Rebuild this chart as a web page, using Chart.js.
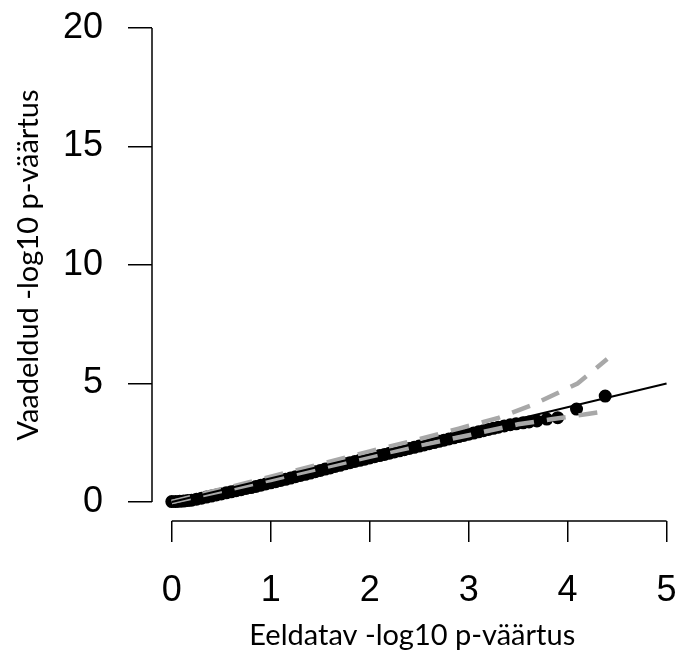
<!DOCTYPE html>
<html>
<head>
<meta charset="utf-8">
<script src="https://cdn.jsdelivr.net/npm/chart.js@4"></script>
<style>
  html, body { margin: 0; padding: 0; background: #fff; }
  #wrap { width: 680px; height: 654px; }
</style>
</head>
<body>
<div id="wrap"><canvas id="qq"></canvas></div>
<script>
const expected = [0.00, 0.04, 0.08, 0.12, 0.16, 0.20, 0.25, 0.30, 0.35, 0.40, 0.45, 0.50,
  0.55, 0.60, 0.65, 0.70, 0.75, 0.80, 0.85, 0.90, 0.95, 1.00, 1.05, 1.10, 1.15, 1.20,
  1.25, 1.30, 1.35, 1.40, 1.45, 1.50, 1.55, 1.60, 1.65, 1.70, 1.75, 1.80, 1.85, 1.90,
  1.95, 2.00, 2.05, 2.10, 2.15, 2.20, 2.25, 2.30, 2.35, 2.40, 2.45, 2.50, 2.55, 2.60,
  2.65, 2.70, 2.75, 2.80, 2.85, 2.90, 2.95, 3.00, 3.05, 3.10, 3.15, 3.20, 3.25, 3.30,
  3.36, 3.42, 3.48, 3.55, 3.61, 3.69, 3.79, 3.90, 4.09, 4.38]
const observed = [0.02, 0.02, 0.03, 0.04, 0.06, 0.08, 0.12, 0.16, 0.21, 0.25, 0.30, 0.34,
  0.39, 0.43, 0.48, 0.52, 0.57, 0.61, 0.66, 0.71, 0.76, 0.81, 0.86, 0.91, 0.96, 1.01,
  1.07, 1.12, 1.17, 1.22, 1.28, 1.33, 1.39, 1.44, 1.50, 1.55, 1.61, 1.66, 1.71, 1.76,
  1.81, 1.86, 1.91, 1.96, 2.01, 2.06, 2.11, 2.16, 2.21, 2.26, 2.31, 2.36, 2.41, 2.46,
  2.51, 2.56, 2.61, 2.66, 2.71, 2.76, 2.81, 2.86, 2.91, 2.96, 3.01, 3.06, 3.11, 3.16,
  3.21, 3.26, 3.30, 3.34, 3.38, 3.42, 3.50, 3.56, 3.92, 4.47]

// confidence band (grey dashed)
const upperX = [0, 0.5, 1.0, 1.5, 2.0, 2.5, 2.9, 3.3, 3.63, 3.9, 4.1, 4.23, 4.4]
const upperY = [0, 0.54, 1.07, 1.6, 2.14, 2.65, 3.1, 3.55, 4.07, 4.6, 5.0, 5.44, 6.03]
const lowerX = [0, 0.5, 1.0, 1.5, 2.0, 2.5, 3.0, 3.5, 3.85, 4.2, 4.4]
const lowerY = [0, 0.46, 0.93, 1.42, 1.91, 2.38, 2.82, 3.28, 3.5, 3.71, 3.84]

// reference line y = x
const diagX = [0, 5]

const xTicks = [0, 1, 2, 3, 4, 5]
const yTicks = [0, 5, 10, 15, 20]

const xTitle = 'Eeldatav -log10 p-väärtus'
const yTitle = 'Vaadeldud -log10 p-väärtus'

function pairs (xs, ys) {
  return xs.map((x, i) => ({ x: x, y: ys[i] }))
}

// no extra room for edge labels, keep the plot box fixed
function noPad (scale) {
  scale.paddingLeft = 0
  scale.paddingRight = 0
  scale.paddingTop = 0
  scale.paddingBottom = 0
}

// R-style detached axis lines, only between first and last tick
const axisLines = {
  id: 'axisLines',
  afterDraw (chart) {
    const { ctx, chartArea, scales } = chart
    ctx.save()
    ctx.strokeStyle = '#000'
    ctx.lineWidth = 1.5
    ctx.beginPath()
    ctx.moveTo(scales.x.getPixelForValue(xTicks[0]), chartArea.bottom)
    ctx.lineTo(scales.x.getPixelForValue(xTicks[xTicks.length - 1]), chartArea.bottom)
    ctx.moveTo(chartArea.left, scales.y.getPixelForValue(yTicks[0]))
    ctx.lineTo(chartArea.left, scales.y.getPixelForValue(yTicks[yTicks.length - 1]))
    ctx.stroke()
    ctx.restore()
  }
}

const tickFont = { family: '"Liberation Sans", Arial, sans-serif', size: 36 }
const titleFont = { family: 'Lato, "Open Sans", sans-serif', size: 29 }

new Chart(document.getElementById('qq'), {
  type: 'scatter',
  data: {
    datasets: [
      {
        label: 'y = x',
        data: pairs(diagX, diagX),
        showLine: true,
        borderColor: '#000',
        borderWidth: 2,
        pointRadius: 0,
        order: 1
      },
      {
        label: 'upper',
        data: pairs(upperX, upperY),
        showLine: true,
        borderColor: '#a8a8a8',
        borderWidth: 4.5,
        borderDash: [19, 13],
        pointRadius: 0,
        order: 2
      },
      {
        label: 'lower',
        data: pairs(lowerX, lowerY),
        showLine: true,
        borderColor: '#a8a8a8',
        borderWidth: 4.5,
        borderDash: [19, 13],
        pointRadius: 0,
        order: 2
      },
      {
        label: 'p',
        data: pairs(expected, observed),
        backgroundColor: '#000',
        borderColor: '#000',
        borderWidth: 2,
        pointRadius: 5.5,
        order: 3
      }
    ]
  },
  options: {
    responsive: true,
    maintainAspectRatio: false,
    animation: false,
    layout: { padding: { top: 9, right: 0, left: 0, bottom: 0 } },
    scales: {
      x: {
        type: 'linear',
        min: -0.2,
        max: 5.06,
        afterFit: function (scale) { scale.height = 133; noPad(scale) },
        afterBuildTicks: function (scale) { scale.ticks = xTicks.map(v => ({ value: v })) },
        border: { display: false },
        grid: { drawOnChartArea: false, drawTicks: true, tickLength: 21, color: '#000', lineWidth: 1.5 },
        ticks: { font: tickFont, color: '#000', padding: 27, maxRotation: 0 },
        title: { display: true, text: xTitle, font: titleFont, color: '#000', padding: { top: 0, bottom: 1 } }
      },
      y: {
        type: 'linear',
        min: -0.8,
        max: 20.8,
        afterFit: function (scale) { scale.width = 152; noPad(scale) },
        afterBuildTicks: function (scale) { scale.ticks = yTicks.map(v => ({ value: v })) },
        border: { display: false },
        grid: { drawOnChartArea: false, drawTicks: true, tickLength: 24, color: '#000', lineWidth: 1.5 },
        ticks: { font: tickFont, color: '#000', padding: 25 },
        title: { display: true, text: yTitle, font: titleFont, color: '#000', padding: { top: 11, bottom: 0 } }
      }
    },
    plugins: {
      legend: { display: false },
      tooltip: { enabled: false }
    }
  },
  plugins: [axisLines]
})
</script>
</body>
</html>
